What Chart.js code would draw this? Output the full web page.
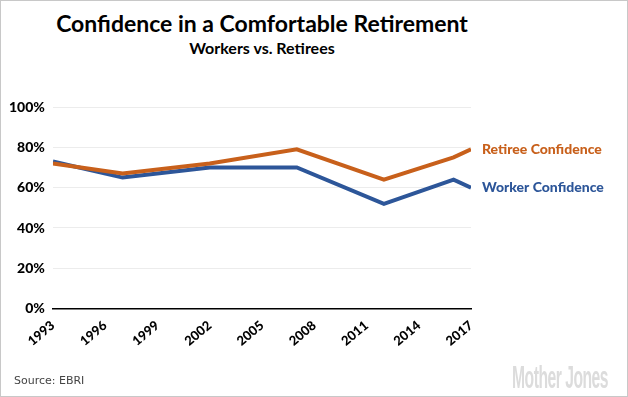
<!DOCTYPE html>
<html>
<head>
<meta charset="utf-8">
<script src="https://cdn.jsdelivr.net/npm/chart.js@4"></script>
<style>
  html, body { margin: 0; padding: 0; background: #fff; }
  #wrap { position: relative; width: 628px; height: 397px; box-sizing: border-box; border: 1px solid #c8c8c8; overflow: hidden; }
  #titulo { position: absolute; left: 0; width: 522px; top: 8px; text-align: center; font-family: Lato, sans-serif; font-weight: 700; font-size: 23px; color: #000; white-space: nowrap; }
  #subtitulo { position: absolute; left: 0; width: 522px; top: 37px; text-align: center; font-family: Lato, sans-serif; font-weight: 700; font-size: 16px; color: #000; }
  #fonte { position: absolute; left: 13px; top: 373px; font-family: "DejaVu Sans", Verdana, sans-serif; font-size: 11px; color: #444; }
  #marca { position: absolute; left: 511px; top: 358px; font-family: "Liberation Sans Narrow", "Liberation Sans", sans-serif; font-weight: 700; font-size: 32px; color: #dcdcdc; letter-spacing: -1px; white-space: nowrap; transform-origin: left top; }
  canvas { position: absolute; left: 0; top: 0; }
</style>
</head>
<body>
<div id="wrap">
  <div id="titulo">Confidence in a Comfortable Retirement</div>
  <div id="subtitulo">Workers vs. Retirees</div>
  <canvas id="grafico-1" width="626" height="395"></canvas>
  <div id="fonte">Source: EBRI</div>
  <div id="marca">Mother Jones</div>
</div>
<script>
// dados
const anos = [1993, 1997, 2002, 2007, 2012, 2016, 2017];
const aposentados = [72, 67, 72, 79, 64, 75, 79];
const trabalhadores = [73, 65, 70, 70, 52, 64, 60];
const rotulosSeries = ["Retiree Confidence", "Worker Confidence"];
const coresSeries = ["#c8601b", "#2d5699"];

function pontos(valores) {
  return anos.map((ano, i) => ({ x: ano, y: valores[i] }));
}

// marca d'agua comprimida para caber na largura
var marca = document.getElementById('marca');
marca.style.transform = 'scaleX(' + (96 / marca.scrollWidth) + ')';

// rotulo direto no fim de cada linha
const rotuloFinal = {
  id: 'rotuloFinal',
  afterDatasetsDraw(chart) {
    const ctx = chart.ctx;
    ctx.save();
    ctx.font = '900 14px Lato, sans-serif';
    ctx.textBaseline = 'middle';
    chart.data.datasets.forEach((ds, i) => {
      const meta = chart.getDatasetMeta(i);
      const ultimo = meta.data[meta.data.length - 1];
      ctx.fillStyle = ds.borderColor;
      ctx.fillText(ds.label, chart.chartArea.right + 11, ultimo.y);
    });
    ctx.restore();
  }
};

var ctx = document.getElementById('grafico-1').getContext('2d');
var grafico = new Chart(ctx, {
  type: 'line',
  data: {
    datasets: [{
      label: rotulosSeries[0],
      data: pontos(aposentados),
      borderColor: coresSeries[0],
      borderWidth: 4,
      pointRadius: 0,
      tension: 0
    }, {
      label: rotulosSeries[1],
      data: pontos(trabalhadores),
      borderColor: coresSeries[1],
      borderWidth: 4,
      pointRadius: 0,
      tension: 0
    }]
  },
  options: {
    responsive: false,
    animation: false,
    layout: { padding: { left: 0, right: 156, top: 106, bottom: 46 } },
    plugins: { legend: { display: false }, tooltip: { enabled: false } },
    scales: {
      x: {
        type: 'linear',
        min: 1993,
        max: 2017,
        grid: { display: false },
        border: { color: '#000', width: 1.5 },
        ticks: {
          stepSize: 3,
          minRotation: 40,
          maxRotation: 40,
          padding: 1,
          color: '#000',
          font: { family: 'Lato, sans-serif', weight: '900', size: 13 },
          callback: v => String(v)
        }
      },
      y: {
        min: 0,
        max: 100,
        grid: { color: '#ececec', drawTicks: false },
        border: { display: false },
        ticks: {
          stepSize: 20,
          padding: 8,
          color: '#000',
          font: { family: 'Lato, sans-serif', weight: '900', size: 14 },
          callback: v => v + '%'
        }
      }
    }
  },
  plugins: [rotuloFinal]
});
</script>
</body>
</html>
